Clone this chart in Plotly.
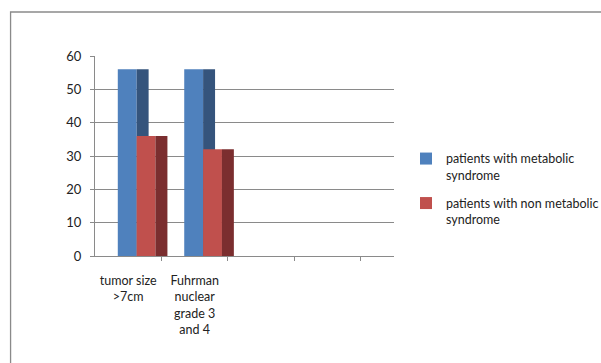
import plotly.graph_objects as go

categories = ["tumor size<br>>7cm", "Fuhrman<br>nuclear<br>grade 3<br>and 4"]
cat_pos = [0, 1]
metabolic = [56, 56]
non_metabolic = [36, 32]
series_names = ["patients with metabolic<br>syndrome", "patients with non metabolic<br>syndrome"]
y_ticks = [0, 10, 20, 30, 40, 50, 60]

BLUE, BLUE_SIDE = "#4F81BD", "#35547C"
RED, RED_SIDE = "#C0504D", "#7B2E2F"
FONT = "Lato"
GRID = "#8a8a8a"
FS = 13
FS_TXT = 12.5

fig = go.Figure()
fig.add_trace(go.Bar(x=cat_pos, y=metabolic, offset=-0.157, width=0.284, marker_color=BLUE,
                     marker_line_width=0, name=series_names[0], legendgroup="a", showlegend=True))
fig.add_trace(go.Bar(x=cat_pos, y=metabolic, offset=0.127, width=0.18, marker_color=BLUE_SIDE,
                     marker_line_width=0, legendgroup="a", showlegend=False))
fig.add_trace(go.Bar(x=cat_pos, y=non_metabolic, offset=0.127, width=0.284, marker_color=RED,
                     marker_line_width=0, name=series_names[1], legendgroup="b", showlegend=True))
fig.add_trace(go.Bar(x=cat_pos, y=non_metabolic, offset=0.41, width=0.18, marker_color=RED_SIDE,
                     marker_line_width=0, legendgroup="b", showlegend=False))
fig.add_trace(go.Scatter(x=cat_pos, y=[None, None], xaxis="x2", showlegend=False, hoverinfo="skip"))

rng = [-0.5, 4.0]
fig.update_layout(
    width=601, height=363,
    margin=dict(l=95, r=205, t=56, b=107),
    paper_bgcolor="white", plot_bgcolor="white",
    barmode="overlay",
    font=dict(family=FONT, size=FS, color="#222"),
    xaxis=dict(range=rng, tickmode="array", tickvals=[0.5, 1.5, 2.5, 3.5], showticklabels=False,
               ticks="outside", ticklen=4, tickcolor=GRID, showline=True, linecolor=GRID,
               showgrid=False, zeroline=False, fixedrange=True),
    xaxis2=dict(range=rng, overlaying="x", anchor="y", side="bottom", tickmode="array",
                tickvals=cat_pos, ticktext=categories, ticks="outside", ticklen=13,
                tickcolor="rgba(0,0,0,0)", showline=False, showgrid=False, zeroline=False,
                tickfont=dict(family=FONT, size=FS_TXT, color="#222")),
    yaxis=dict(range=[0, 60], tickmode="array", tickvals=y_ticks, ticks="outside", ticklen=4,
               tickcolor=GRID, showline=True, linecolor=GRID, showgrid=True, gridcolor=GRID,
               gridwidth=1, zeroline=False, ticklabelstandoff=6,
               tickfont=dict(family=FONT, size=FS, color="#222")),
    legend=dict(xref="container", yref="container", x=0.6755, y=0.6035,
                xanchor="left", yanchor="top", valign="top",
                traceorder="grouped", tracegroupgap=9, itemwidth=30,
                font=dict(family=FONT, size=FS_TXT, color="#222"), bgcolor="rgba(0,0,0,0)"),
    showlegend=True,
    shapes=[dict(type="rect", xref="paper", yref="paper", x0=-0.2824, x1=1.7, y0=-0.6, y1=1.22,
                 line=dict(color="#8a8a8a", width=1.3), fillcolor="rgba(0,0,0,0)", layer="below")],
)

fig.write_html("out.html", config={"displayModeBar": False},
               post_script="document.body.style.margin='0';document.body.style.overflow='hidden';")
